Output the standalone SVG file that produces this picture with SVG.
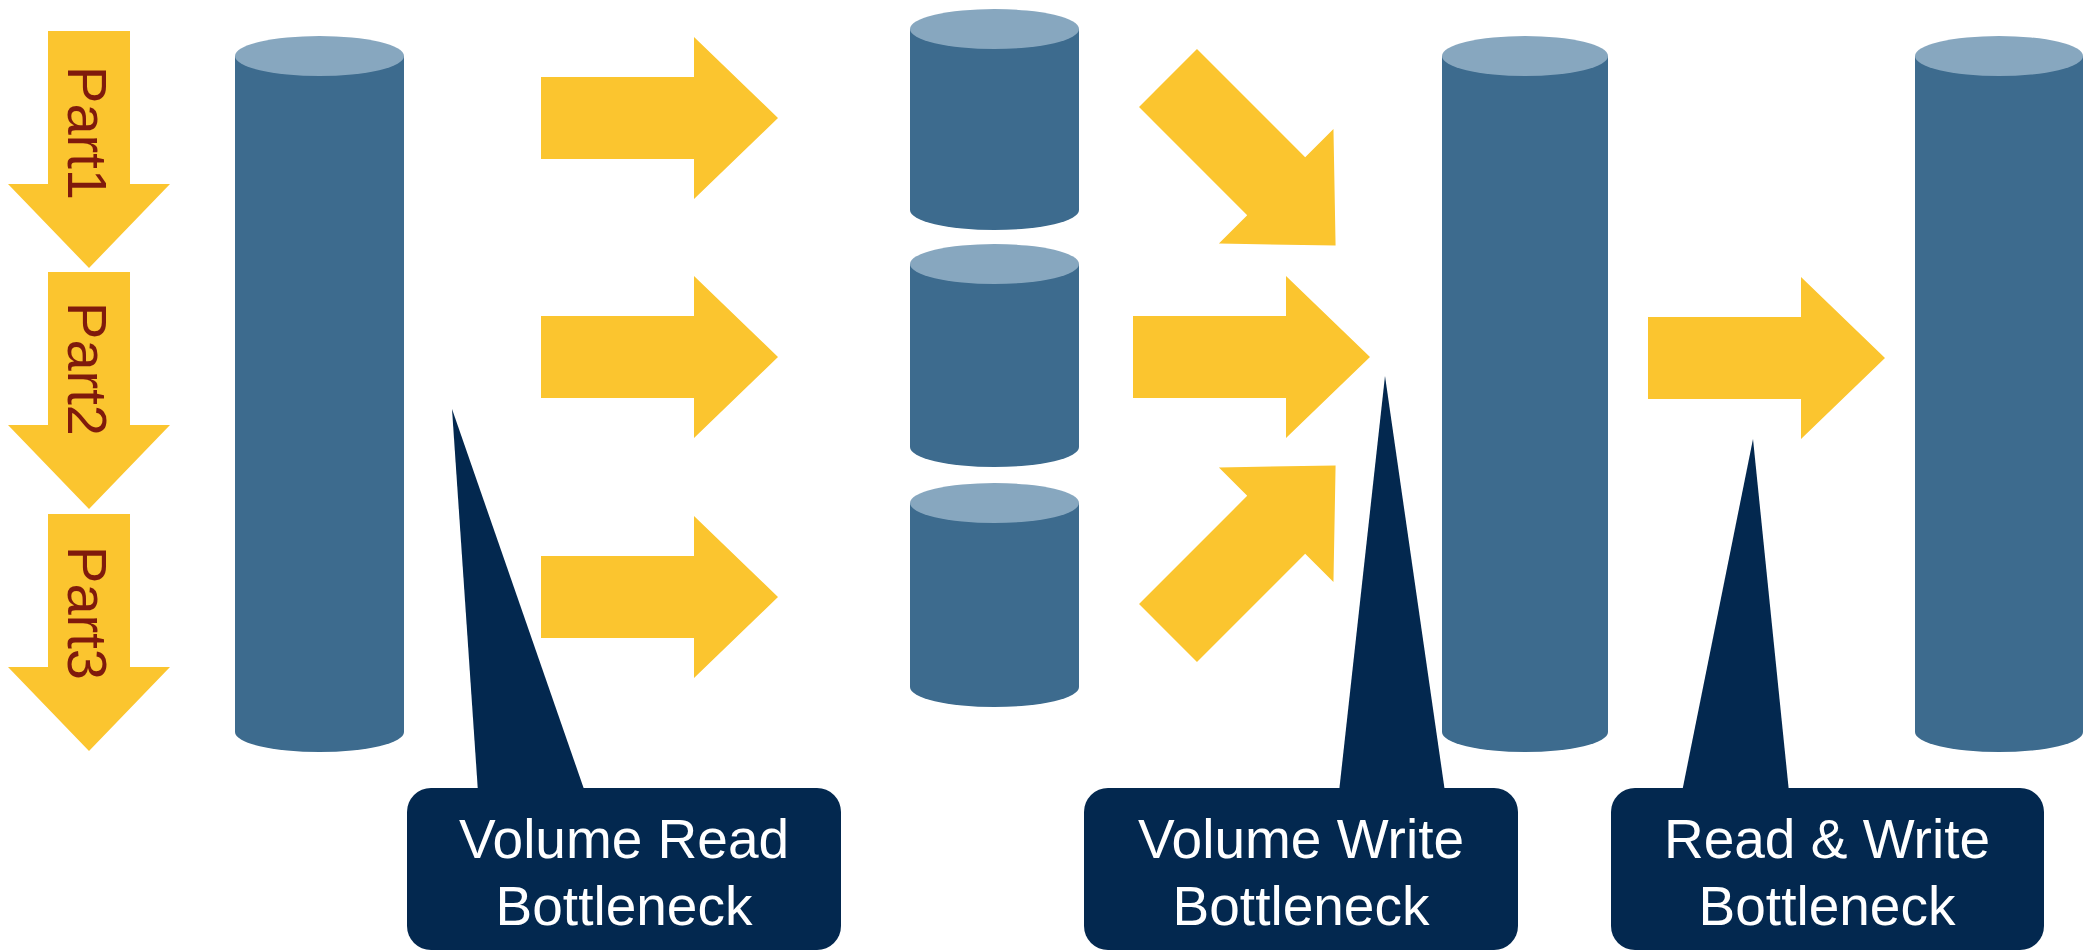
<svg xmlns="http://www.w3.org/2000/svg" xmlns:xlink="http://www.w3.org/1999/xlink" width="2093" height="952" viewBox="0 0 2093 952">
  <style>
    .body { fill: #3d6b8e; }
    .top { fill: #87a7bf; }
    .arrow { fill: #fbc52f; }
    .callout { fill: #03284f; }
    .ctext { font-family: "Liberation Sans", Arial, sans-serif; font-size: 55px; fill: #ffffff; text-anchor: middle; }
    .ptext { font-family: "Liberation Sans", Arial, sans-serif; font-size: 56px; fill: #7f1a0c; text-anchor: middle; }
  </style>
  <defs>
    <path id="arr" d="M0,-41 H153 V-81 L237,0 L153,81 V41 H0 Z"/>
  </defs>
  <rect x="0" y="0" width="2093" height="952" fill="#ffffff"/>

  <!-- Part arrows -->
  <g id="part1">
    <use xlink:href="#arr" href="#arr" class="arrow" transform="translate(89,31) rotate(90)"/>
    <text class="ptext" transform="translate(68,133) rotate(90)">Part1</text>
  </g>
  <g id="part2">
    <use xlink:href="#arr" href="#arr" class="arrow" transform="translate(89,272) rotate(90)"/>
    <text class="ptext" transform="translate(68,369) rotate(90)">Part2</text>
  </g>
  <g id="part3">
    <use xlink:href="#arr" href="#arr" class="arrow" transform="translate(89,514) rotate(90)"/>
    <text class="ptext" transform="translate(68,613) rotate(90)">Part3</text>
  </g>

  <!-- Cylinders -->
  <g id="cyl-source">
    <path class="body" d="M235,56 V732 A84.5,20 0 0 0 404,732 V56 Z"/>
    <ellipse class="top" cx="319.5" cy="56" rx="84.5" ry="20"/>
  </g>
  <g id="cyl-small-1">
    <path class="body" d="M910,29 V210 A84.5,20 0 0 0 1079,210 V29 Z"/>
    <ellipse class="top" cx="994.5" cy="29" rx="84.5" ry="20"/>
  </g>
  <g id="cyl-small-2">
    <path class="body" d="M910,264 V447 A84.5,20 0 0 0 1079,447 V264 Z"/>
    <ellipse class="top" cx="994.5" cy="264" rx="84.5" ry="20"/>
  </g>
  <g id="cyl-small-3">
    <path class="body" d="M910,503 V687 A84.5,20 0 0 0 1079,687 V503 Z"/>
    <ellipse class="top" cx="994.5" cy="503" rx="84.5" ry="20"/>
  </g>
  <g id="cyl-merged">
    <path class="body" d="M1442,56 V732 A83,20 0 0 0 1608,732 V56 Z"/>
    <ellipse class="top" cx="1525" cy="56" rx="83" ry="20"/>
  </g>
  <g id="cyl-target">
    <path class="body" d="M1915,56 V732 A84,20 0 0 0 2083,732 V56 Z"/>
    <ellipse class="top" cx="1999" cy="56" rx="84" ry="20"/>
  </g>

  <!-- Connectors (yellow arrows) -->
  <g id="connectors" class="arrow">
    <use xlink:href="#arr" href="#arr" transform="translate(541,118)"/>
    <use xlink:href="#arr" href="#arr" transform="translate(541,357)"/>
    <use xlink:href="#arr" href="#arr" transform="translate(541,597)"/>
    <use xlink:href="#arr" href="#arr" transform="translate(1168,78) rotate(45)"/>
    <use xlink:href="#arr" href="#arr" transform="translate(1133,357)"/>
    <use xlink:href="#arr" href="#arr" transform="translate(1168,633) rotate(-45)"/>
    <use xlink:href="#arr" href="#arr" transform="translate(1648,358)"/>
  </g>

  <!-- Callouts -->
  <g id="callout-read">
    <polygon class="callout" points="452,409 478,792 585,792"/>
    <rect class="callout" x="407" y="788" width="434" height="162" rx="24"/>
    <text class="ctext" x="624" y="858">Volume Read</text>
    <text class="ctext" x="624" y="925">Bottleneck</text>
  </g>
  <g id="callout-write">
    <polygon class="callout" points="1385,376 1339,792 1445,792"/>
    <rect class="callout" x="1084" y="788" width="434" height="162" rx="24"/>
    <text class="ctext" x="1301" y="858">Volume Write</text>
    <text class="ctext" x="1301" y="925">Bottleneck</text>
  </g>
  <g id="callout-readwrite">
    <polygon class="callout" points="1753,439 1682,792 1789,792"/>
    <rect class="callout" x="1611" y="788" width="433" height="162" rx="24"/>
    <text class="ctext" x="1827" y="858">Read &amp; Write</text>
    <text class="ctext" x="1827" y="925">Bottleneck</text>
  </g>
</svg>
